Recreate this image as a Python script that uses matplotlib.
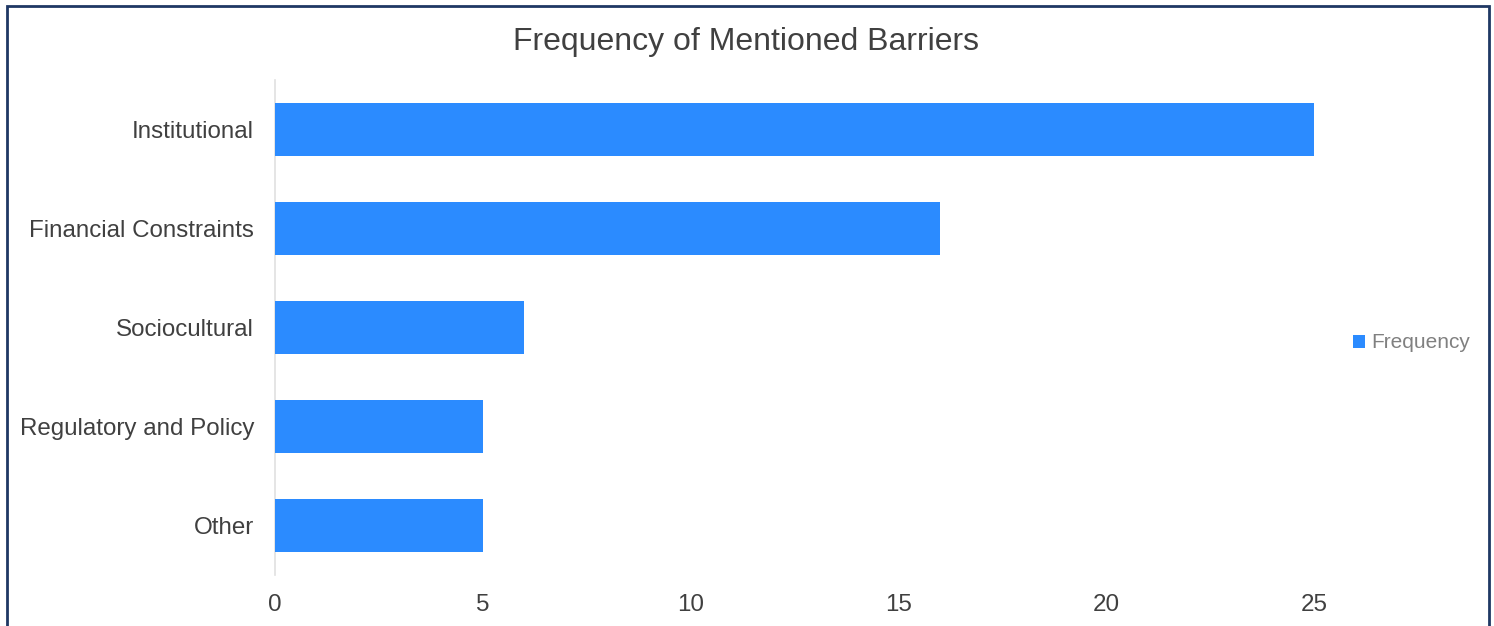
import matplotlib
matplotlib.use('Agg')
import matplotlib.pyplot as plt
from matplotlib.patches import Rectangle

plt.rcParams['font.family'] = ['Liberation Sans', 'DejaVu Sans']

# data
categories = ['Institutional', 'Financial Constraints', 'Sociocultural',
              'Regulatory and Policy', 'Other']
frequency = [25, 16, 6, 5, 5]
xticks = [0, 5, 10, 15, 20, 25]

bar_color = '#2b8bff'
text_color = '#404040'

fig = plt.figure(figsize=(14.94, 6.26), dpi=100)
ax = fig.add_axes([275 / 1494, 1 - 575 / 626, (27 * 41.56) / 1494, 495 / 626])

ypos = list(range(len(categories)))
ax.barh(ypos, frequency, height=0.53, color=bar_color, label='Frequency', zorder=3)
ax.set_yticks(ypos)
ax.set_yticklabels(categories, fontsize=17.4, color=text_color)
ax.set_ylim(len(categories) - 0.5, -0.5)
ax.set_xlim(0, 27)
ax.set_xticks(xticks)
ax.set_xticklabels([str(t) for t in xticks], fontsize=17.4, color=text_color)
ax.tick_params(axis='both', length=0)
ax.tick_params(axis='x', pad=13.5)
ax.tick_params(axis='y', pad=15)

for s in ['top', 'right', 'bottom']:
    ax.spines[s].set_visible(False)
ax.spines['left'].set_color('#e0e0e0')
ax.spines['left'].set_linewidth(1.2)

fig.text(746 / 1494, 1 - 42 / 626, 'Frequency of Mentioned Barriers',
         ha='center', va='center', fontsize=23, color=text_color)

leg = fig.legend(loc='center left', bbox_to_anchor=(1334 / 1494, 1 - 343 / 626),
                 frameon=False, fontsize=15, handlelength=0.6, handleheight=0.6,
                 handletextpad=0.3)
for t in leg.get_texts():
    t.set_color('#808080')

# outer frame
fig.patches.append(Rectangle((7 / 1494, -0.05), (1489 - 7) / 1494, 1 - 6 / 626 + 0.05,
                             transform=fig.transFigure, fill=False,
                             edgecolor='#1f3864', linewidth=2))

plt.savefig('out.png', dpi=100)
plt.close()
